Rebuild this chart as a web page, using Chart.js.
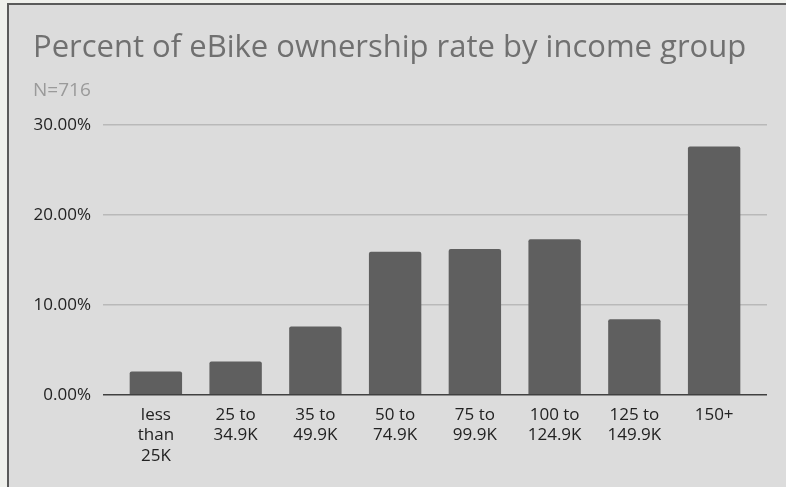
<!DOCTYPE html>
<html>
<head>
<meta charset="utf-8">
<script src="https://cdn.jsdelivr.net/npm/chart.js@4.4.0/dist/chart.umd.min.js"></script>
<style>
html,body{margin:0;padding:0;background:#eff0ec;overflow:hidden;}
#box{position:absolute;left:7px;top:3px;width:777px;height:482px;border-left:2px solid #5a5a5a;border-top:2px solid #5a5a5a;background:#dcdcdc;}
</style>
</head>
<body>
<div id="box"><canvas id="incomeChart"></canvas></div>
<script>
// income groups and ownership rate (%)
var incomeGroups = [["less","than","25K"],["25 to","34.9K"],["35 to","49.9K"],["50 to","74.9K"],["75 to","99.9K"],["100 to","124.9K"],["125 to","149.9K"],["150+"]];
var ownershipRate = [2.6, 3.7, 7.6, 15.9, 16.2, 17.3, 8.4, 27.6];
var yTicks = [0, 10, 20, 30];

// gridline colour, zero line darker
function gridColor(c){ return c.tick && c.tick.value === 0 ? "#404040" : "#b9b9b9"; }
function setTicks(axis){ axis.ticks = yTicks.map(function(v){ return {value: v}; }); }

var ctx = document.getElementById("incomeChart").getContext("2d");
var chart = new Chart(ctx, {
	type: "bar",
	data: {
		labels: incomeGroups,
		datasets: [{
			label: "eBike ownership",
			data: ownershipRate,
			backgroundColor: "#5f5f5f",
			borderRadius: 2,
			borderSkipped: "bottom",
			categoryPercentage: 1,
			barPercentage: 0.657
		}]
	},
	options: {
		responsive: true,
		maintainAspectRatio: false,
		animation: false,
		layout: {padding: {left: 24, right: 19, top: 25, bottom: 11}},
		plugins: {
			legend: {display: false},
			tooltip: {enabled: false},
			title: {
				display: true,
				text: "Percent of eBike ownership rate by income group",
				align: "start",
				color: "#707070",
				font: {family: "'Open Sans', sans-serif", size: 31, weight: "normal"},
				padding: {top: 0, bottom: 12}
			},
			subtitle: {
				display: true,
				text: "N=716",
				align: "start",
				color: "#9a9a9a",
				font: {family: "'Open Sans', sans-serif", size: 19, weight: "normal"},
				padding: {top: 0, bottom: 23}
			}
		},
		scales: {
			x: {
				grid: {display: false, drawTicks: false},
				border: {display: false},
				ticks: {
					color: "#222",
					maxRotation: 0,
					autoSkip: false,
					padding: 10,
					font: {family: "'Open Sans', sans-serif", size: 17, lineHeight: 1.2}
				}
			},
			y: {
				min: 0,
				max: 30,
				afterBuildTicks: setTicks,
				afterFit: function(axis){ axis.width = 83; },
				grid: {color: gridColor, lineWidth: 1.5, drawTicks: true, tickLength: 13},
				border: {display: false},
				ticks: {
					color: "#222",
					padding: 12,
					font: {family: "'Open Sans', sans-serif", size: 17},
					callback: function(v){ return v.toFixed(2) + "%"; }
				}
			},
			y2: {
				position: "right",
				min: 0,
				max: 30,
				afterBuildTicks: setTicks,
				afterFit: function(axis){ axis.width = 13; },
				grid: {color: gridColor, lineWidth: 1.5, drawOnChartArea: false, drawTicks: true, tickLength: 13},
				border: {display: false},
				ticks: {display: false}
			}
		}
	}
});
</script>
</body>
</html>
